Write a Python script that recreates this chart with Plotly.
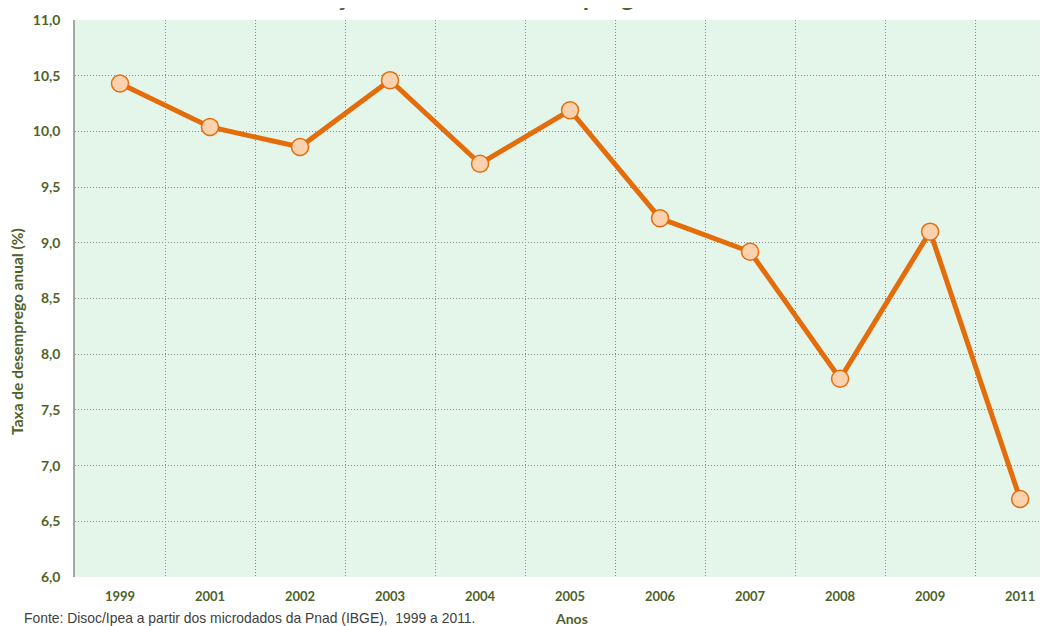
import plotly.graph_objects as go

anos = ["1999", "2001", "2002", "2003", "2004", "2005", "2006", "2007", "2008", "2009", "2011"]
taxa = [10.43, 10.04, 9.86, 10.46, 9.71, 10.19, 9.22, 8.92, 7.78, 9.10, 6.70]

VERDE = "#4F6228"
LARANJA = "#E46C0A"

fig = go.Figure(go.Scatter(
    x=anos,
    y=taxa,
    mode="lines+markers",
    line=dict(color=LARANJA, width=5),
    marker=dict(size=17, color="#FCD2AE", line=dict(color=LARANJA, width=1.5)),
    showlegend=False,
))

# a página tem 8px de margem, por isso a figura é um pouco menor que a janela
fig.update_layout(
    width=1040,
    height=618,
    margin=dict(l=67, r=0, t=12, b=49),
    paper_bgcolor="white",
    plot_bgcolor="#E4F5EA",
    separators=",.",
    font=dict(family="Lato", color=VERDE),
)

fig.update_xaxes(
    type="category",
    range=[-0.5, 10.31],
    tickson="boundaries",
    showgrid=True,
    gridcolor="#8C8C8C",
    griddash="1px,2px",
    gridwidth=1,
    ticks="",
    ticklabelstandoff=10,
    tickfont=dict(size=13, family="Lato", weight="bold", color=VERDE),
    showline=False,
)

fig.update_yaxes(
    range=[6, 11],
    dtick=0.5,
    tickformat=".1f",
    showgrid=True,
    gridcolor="#8C8C8C",
    griddash="1px,2px",
    gridwidth=1,
    zeroline=False,
    showline=True,
    linecolor="#A6A6A6",
    linewidth=1.5,
    ticks="",
    ticklabelstandoff=10,
    tickfont=dict(size=14, family="Lato", weight="bold", color=VERDE),
)

# título do eixo y fica um pouco abaixo do centro no original
fig.add_annotation(
    text="Taxa de desemprego anual (%)",
    xref="paper", yref="paper", x=-0.071, y=0.4417, textangle=-90,
    showarrow=False,
    font=dict(size=15.5, family="Lato", weight="bold", color=VERDE),
)
fig.add_annotation(
    text="Evolução da taxa de desemprego",
    xref="paper", yref="paper", x=0.396, y=1, yanchor="bottom", yshift=6,
    showarrow=False,
    font=dict(size=26, family="Lato", weight="bold", color=VERDE),
)
fig.add_annotation(
    text="Anos",
    xref="paper", yref="paper", x=0.51, y=0, yanchor="middle", yshift=-41,
    showarrow=False,
    font=dict(size=14, family="Lato", weight="bold", color=VERDE),
)
fig.add_annotation(
    text="Fonte: Disoc/Ipea a partir dos microdados da Pnad (IBGE),  1999 a 2011.",
    xref="paper", yref="paper", x=-0.0545, xanchor="left", y=0, yanchor="middle", yshift=-41,
    showarrow=False,
    font=dict(size=13.9, family="Liberation Sans", color="#404040"),
)

fig.write_html("out.html")
